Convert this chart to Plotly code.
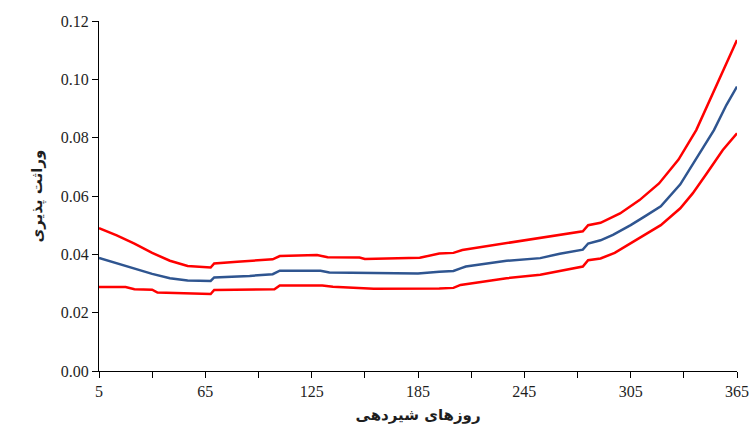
import plotly.graph_objects as go

# Heritability across days in milk: estimate (blue) with upper/lower bounds (red)
days_mid = [5, 15, 25, 35, 45, 55, 68, 70, 90, 103, 107, 130, 135, 155, 160, 185, 197,
            205, 209, 212, 235, 254, 265, 278, 281, 288, 295, 305, 313, 322, 333, 342,
            352, 359, 365]
h2_mid = [0.0388, 0.0370, 0.0352, 0.0333, 0.0318, 0.0310, 0.0309, 0.0321, 0.0326, 0.0332,
          0.0344, 0.0344, 0.0338, 0.0337, 0.0335, 0.0334, 0.0340, 0.0343, 0.0352, 0.0358,
          0.0378, 0.0387, 0.0402, 0.0416, 0.0437, 0.0448, 0.0467, 0.0500, 0.0530, 0.0565,
          0.0640, 0.0729, 0.0826, 0.0912, 0.0975]

days_upper = [5, 15, 25, 35, 45, 55, 68, 70, 83, 103, 107, 128, 134, 152, 155, 186, 197,
              205, 210, 235, 254, 265, 278, 281, 288, 299, 310, 321, 332, 342, 352, 359, 365]
h2_upper = [0.0490, 0.0465, 0.0437, 0.0405, 0.0378, 0.0360, 0.0355, 0.0369, 0.0375, 0.0383,
            0.0394, 0.0398, 0.0390, 0.0389, 0.0384, 0.0388, 0.0403, 0.0405, 0.0415, 0.0438,
            0.0455, 0.0466, 0.0479, 0.0500, 0.0508, 0.0540, 0.0586, 0.0643, 0.0725, 0.0826,
            0.0958, 0.1055, 0.1135]

days_lower = [5, 20, 25, 35, 38, 50, 68, 70, 104, 107, 131, 137, 155, 160, 197, 205, 209,
              235, 254, 265, 278, 281, 288, 296, 305, 313, 322, 333, 340, 348, 357, 365]
h2_lower = [0.0288, 0.0288, 0.0280, 0.0279, 0.0269, 0.0266, 0.0264, 0.0278, 0.0280, 0.0293,
            0.0293, 0.0289, 0.0285, 0.0282, 0.0283, 0.0285, 0.0295, 0.0318, 0.0330, 0.0343,
            0.0358, 0.0380, 0.0386, 0.0405, 0.0438, 0.0465, 0.0500, 0.0558, 0.0609, 0.0678,
            0.0758, 0.0815]

x_ticks = [5, 65, 125, 185, 245, 305, 365]
y_ticks = [0.00, 0.02, 0.04, 0.06, 0.08, 0.10, 0.12]

RED = "#FF0000"
BLUE = "#2F5590"
TEXT = "#1E1E1E"
SERIF = "Liberation Serif, Times New Roman, serif"
ARABIC = "DejaVu Sans, Noto Sans, sans-serif"

fig = go.Figure()
fig.add_trace(go.Scatter(x=days_upper, y=h2_upper, mode="lines",
                         line=dict(color=RED, width=2.5), showlegend=False))
fig.add_trace(go.Scatter(x=days_lower, y=h2_lower, mode="lines",
                         line=dict(color=RED, width=2.5), showlegend=False))
fig.add_trace(go.Scatter(x=days_mid, y=h2_mid, mode="lines",
                         line=dict(color=BLUE, width=2.5), showlegend=False))

fig.update_layout(
    width=754, height=439,
    margin=dict(l=99, r=17, t=21, b=68),
    paper_bgcolor="white", plot_bgcolor="white",
    font=dict(family=SERIF, size=16, color=TEXT),
)
fig.update_xaxes(
    range=[5, 365], tickvals=x_ticks, ticktext=[str(v) for v in x_ticks],
    automargin=False,
    showline=True, linecolor="black", linewidth=1, showgrid=False, zeroline=False,
    ticks="outside", ticklen=6, tickcolor="black",
    minor=dict(dtick=30, tick0=5, ticks="outside", ticklen=6, tickcolor="black", showgrid=False),
    tickfont=dict(family=SERIF, size=16, color=TEXT),
    title=dict(text="<b>روزهای شیردهی</b>", font=dict(family=ARABIC, size=15, color=TEXT), standoff=10),
)
fig.update_yaxes(
    range=[0, 0.12], tickvals=y_ticks, tickformat=".2f",
    automargin=False,
    showline=True, linecolor="black", linewidth=1, showgrid=False, zeroline=False,
    ticks="outside", ticklen=6, tickcolor="black",
    tickfont=dict(family=SERIF, size=16, color=TEXT),
    title=dict(text="<b>وراثت پذیری</b>", font=dict(family=ARABIC, size=15, color=TEXT), standoff=14),
)

fig.write_html("out.html")
